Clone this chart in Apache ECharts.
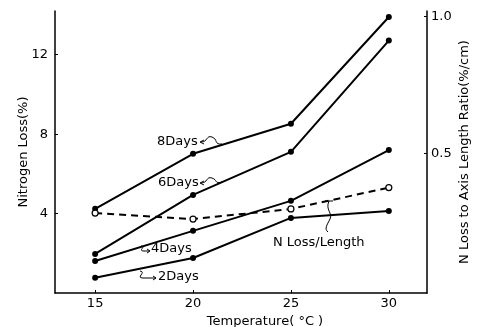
<!DOCTYPE html>
<html>
<head>
<meta charset="utf-8">
<script src="https://cdn.jsdelivr.net/npm/echarts@6/dist/echarts.min.js"></script>
<style>html,body{margin:0;padding:0;background:#fff;}#c{width:477px;height:327px;}</style>
</head>
<body>
<div id="c"></div>
<script>
const temps = [15, 20, 25, 30];
const xTicks = [15, 20, 25, 30];
const leftTicks = [4, 8, 12];
const rightTicks = [0.5, 1.0];
const days2 = [0.77, 1.76, 3.78, 4.13];
const days4 = [1.61, 3.13, 4.64, 7.2];
const days6 = [1.97, 4.94, 7.11, 12.71];
const days8 = [4.24, 7.01, 8.52, 13.9];
const nLossLength = [0.282, 0.26, 0.297, 0.375];

const FONT = 'DejaVu Sans';
const chart = echarts.init(document.getElementById('c'), null, {renderer: 'canvas'});

function pts(arr) { return temps.map((t, i) => [t, arr[i]]); }
function solid(name, arr) {
  return {
    name, type: 'line', yAxisIndex: 0, data: pts(arr),
    symbol: 'circle', symbolSize: 6, showSymbol: true,
    lineStyle: {color: '#000', width: 2},
    itemStyle: {color: '#000', borderWidth: 0},
    animation: false, z: 3
  };
}
const axisLine = {show: true, lineStyle: {color: '#000', width: 1.5}};
const tickStyle = {show: true, inside: true, length: 3, lineStyle: {color: '#000', width: 1}};
const labelStyle = {color: '#000', fontFamily: FONT, fontSize: 13};

const lineSt = {stroke: '#000', fill: null, lineWidth: 1};
function bez(x1, y1, c1x, c1y, c2x, c2y, x2, y2) {
  return {type: 'bezierCurve', shape: {x1, y1, x2, y2, cpx1: c1x, cpy1: c1y, cpx2: c2x, cpy2: c2y}, style: lineSt, z: 10};
}
function poly(points) {
  return {type: 'polyline', shape: {points}, style: lineSt, z: 10};
}
function text(x, y, s) {
  return {type: 'text', x, y, style: {text: s, fill: '#000', font: '13px "' + FONT + '"', textVerticalAlign: 'middle'}, z: 10};
}

chart.setOption({
  backgroundColor: '#fff',
  animation: false,
  grid: {left: 55, right: 50, top: 11, bottom: 34, containLabel: false, outerBoundsMode: 'none'},
  xAxis: {
    type: 'value', min: 12.95, max: 31.95,
    axisLine, splitLine: {show: false},
    axisTick: Object.assign({customValues: xTicks}, tickStyle),
    axisLabel: Object.assign({customValues: xTicks, margin: 4}, labelStyle),
    name: 'Temperature( °C )', nameLocation: 'middle', nameGap: 19,
    nameTextStyle: {color: '#000', fontFamily: FONT, fontSize: 13, padding: [0, 0, 0, 48]}
  },
  yAxis: [
    {
      type: 'value', position: 'left', min: 0, max: 14.2,
      axisLine, splitLine: {show: false},
      axisTick: Object.assign({customValues: leftTicks}, tickStyle),
      axisLabel: Object.assign({customValues: leftTicks, margin: 7}, labelStyle),
      name: 'Nitrogen Loss(%)', nameLocation: 'middle', nameGap: 25, nameRotate: 90,
      nameMoveOverlap: false,
      nameTextStyle: {color: '#000', fontFamily: FONT, fontSize: 13}
    },
    {
      type: 'value', position: 'right', min: -0.01, max: 1.02,
      axisLine, splitLine: {show: false},
      axisTick: Object.assign({customValues: rightTicks}, tickStyle),
      axisLabel: Object.assign({customValues: rightTicks, margin: 4, formatter: v => v.toFixed(1)}, labelStyle),
      name: 'N Loss to Axis Length Ratio(%/cm)', nameLocation: 'middle', nameGap: 31, nameRotate: 90,
      nameMoveOverlap: false,
      nameTextStyle: {color: '#000', fontFamily: FONT, fontSize: 13, padding: [0, 0, 0, 0]}
    }
  ],
  series: [
    solid('8Days', days8),
    solid('6Days', days6),
    solid('4Days', days4),
    solid('2Days', days2),
    {
      name: 'N Loss/Length', type: 'line', yAxisIndex: 1, data: pts(nLossLength),
      symbol: 'circle', symbolSize: 6,
      lineStyle: {color: '#000', width: 2, type: [7, 5]},
      itemStyle: {color: '#fff', borderColor: '#000', borderWidth: 1.2},
      animation: false, z: 4
    }
  ],
  graphic: [
    text(157, 142, '8Days'),
    bez(201, 142, 208, 142, 206, 135, 212, 137),
    bez(212, 137, 218, 139, 214, 145, 222, 144),
    poly([[204, 140], [200, 142], [204, 144]]),
    text(158, 183, '6Days'),
    bez(201, 183, 208, 183, 206, 176, 212, 178),
    bez(212, 178, 218, 180, 214, 184, 222, 182),
    poly([[204, 181], [200, 183], [204, 185]]),
    text(151, 249, '4Days'),
    bez(141, 246, 147, 246, 137, 251, 144, 251),
    poly([[144, 251], [150, 251]]),
    poly([[147, 249], [150, 251], [147, 253]]),
    text(158, 277, '2Days'),
    bez(140, 271, 147, 272, 135, 278, 143, 278),
    poly([[143, 278], [156, 278]]),
    poly([[153, 276], [156, 278], [153, 280]]),
    text(273, 243, 'N Loss/Length'),
    bez(329, 201, 325, 210, 333, 213, 330, 219),
    bez(330, 219, 327, 225, 324, 229, 328, 232),
    poly([[325, 201], [333, 201]])
  ]
});
</script>
</body>
</html>
